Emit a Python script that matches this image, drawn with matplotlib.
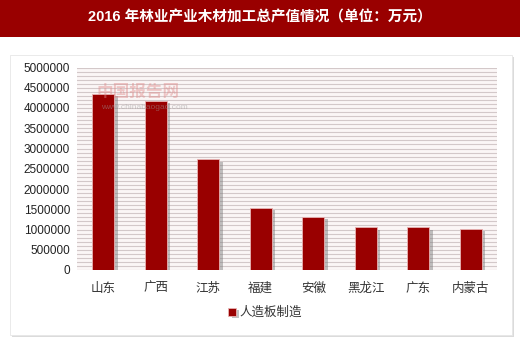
import matplotlib.pyplot as plt
import matplotlib.patches as patches
import matplotlib.patheffects as pe

plt.rcParams['font.family'] = ['Liberation Sans', 'Noto Sans CJK SC', 'DejaVu Sans']

title = "2016 年林业产业木材加工总产值情况（单位：万元）"
provinces = ["山东", "广西", "江苏", "福建", "安徽", "黑龙江", "广东", "内蒙古"]
output_value = [4350000, 4180000, 2730000, 1540000, 1300000, 1050000, 1050000, 1010000]
series_name = "人造板制造"
y_ticks = [0, 500000, 1000000, 1500000, 2000000, 2500000, 3000000, 3500000,
           4000000, 4500000, 5000000]

dark_red = '#990000'

fig = plt.figure(figsize=(5.2, 3.41), dpi=100)
fig.patch.set_facecolor('white')

# title banner
banner = patches.Rectangle((0, 1 - 37 / 341), 1, 37 / 341, transform=fig.transFigure,
                           facecolor=dark_red, edgecolor='none', zorder=-2)
fig.patches.append(banner)
fig.text(0.5, 1 - 17 / 341, title, color='white', fontsize=10.5, fontweight='bold',
         ha='center', va='center', family=['Liberation Sans', 'Noto Sans CJK SC'])

# white panel with soft shadow
panel = patches.Rectangle((10 / 520, 1 - 335 / 341), 502 / 520, 280 / 341,
                          transform=fig.transFigure, facecolor='white', edgecolor='#e6e6e6',
                          linewidth=0.6, zorder=-2,
                          path_effects=[pe.SimplePatchShadow(offset=(1.5, -1.5), shadow_rgbFace='#999999', alpha=0.35),
                                        pe.Normal()])
fig.patches.append(panel)

ax = fig.add_axes([77 / 520, 1 - 270 / 341, 420 / 520, 202.5 / 341])
ax.set_facecolor('#fbf6f6')
ax.set_zorder(1)

# striped background
for v in range(0, 5000001, 100000):
    ax.axhline(v, color='#d3c8c9', linewidth=0.8, zorder=1)

x = range(len(provinces))
ax.bar(x, output_value, width=0.42, color=dark_red, edgecolor='#e8b4b4', linewidth=0.6,
       zorder=3, label=series_name,
       path_effects=[pe.SimplePatchShadow(offset=(2.5, -1.5), shadow_rgbFace='#777777', alpha=0.45),
                     pe.Normal()])

ax.set_xlim(-0.5, len(provinces) - 0.5)
ax.set_ylim(0, 5000000)
ax.set_yticks(y_ticks)
ax.set_yticklabels([str(t) for t in y_ticks], fontsize=8.5, color='#222222')
ax.set_xticks(list(x))
ax.set_xticklabels(provinces, fontsize=9, color='#333333')
ax.tick_params(axis='both', length=0, pad=5)
ax.tick_params(axis='x', pad=9)
for s in ax.spines.values():
    s.set_visible(False)

# faint watermark
fig.text(97 / 520, 1 - 92 / 341, "中国报告网", fontsize=12, color='#e08a8a', alpha=0.45,
         ha='left', va='center', fontweight='bold', family=['Noto Sans CJK SC'], zorder=5)
fig.text(101 / 520, 1 - 108 / 341, "www.chinabaogao.com", fontsize=6, color='#999999', alpha=0.5,
         ha='left', va='center', zorder=5)

leg = fig.legend(loc='center', bbox_to_anchor=(265 / 520, 1 - 313 / 341), frameon=False,
                 fontsize=9, handlelength=0.6, handleheight=0.6, handletextpad=0.3)
for t in leg.get_texts():
    t.set_color('#333333')

fig.savefig('out.png', dpi=100)
